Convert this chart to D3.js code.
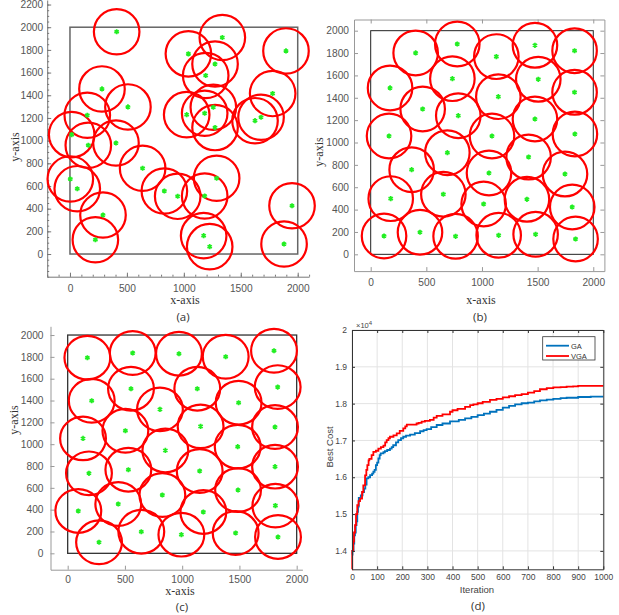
<!DOCTYPE html>
<html lang="en">
<head>
<meta charset="UTF-8" />
<title>Sensor layouts + GA vs VGA</title>
<script src="https://d3js.org/d3.v7.min.js"></script>
<style>
  body { margin: 0; background: #fff; }
  svg { display: block; }
  .axis-title { font-family: "Liberation Serif", "Times New Roman", serif; fill: #333; font-size: 12px; }
  .sub-label { font-family: "Open Sans", "Liberation Sans", sans-serif; fill: #333; font-size: 11.5px; }
</style>
</head>
<body>
<svg width="619" height="615"></svg>
<script>
const radius = 200;

const layoutA = [
  [410, 1960], [1040, 1765], [1338, 1909], [1274, 1676], [1192, 1574], [1897, 1791],
  [281, 1456], [509, 1297], [152, 1224], [1025, 1229], [1183, 1241], [1259, 1294],
  [1274, 1115], [1780, 1415], [1625, 1176], [1678, 1206], [15, 1053], [161, 959],
  [404, 979], [638, 756], [3, 662], [64, 576], [829, 556], [946, 509],
  [1183, 512], [1288, 668], [290, 344], [223, 126], [1174, 162], [1227, 65],
  [1950, 426], [1880, 88]
];

const layoutB = [
  [404, 1801], [778, 1881], [1129, 1768], [1476, 1869], [1832, 1821],
  [174, 1488], [734, 1571], [1506, 1565], [1832, 1449],
  [467, 1300], [787, 1240], [1147, 1410], [1476, 1210],
  [165, 1058], [1090, 1058], [1835, 1076], [689, 909],
  [368, 757], [1063, 727], [1419, 870], [1746, 718],
  [180, 498], [653, 537], [1015, 450], [1404, 492], [1811, 423],
  [120, 164], [443, 197], [763, 161], [1150, 170], [1482, 179], [1841, 137]
];

const layoutC = [
  [172, 1792], [568, 1835], [972, 1829], [1380, 1801], [1802, 1856],
  [210, 1398], [553, 1508], [1132, 1508], [1493, 1380], [1834, 1523],
  [806, 1319], [504, 1123], [1161, 1163], [1811, 1157],
  [134, 1053], [853, 943], [1485, 977],
  [186, 733], [530, 766], [1153, 754], [1811, 794],
  [827, 534], [1488, 580], [442, 452], [93, 388], [1185, 379], [1814, 437],
  [643, 198], [993, 171], [1467, 186], [1837, 150], [274, 101]
];

// convergence curves (best cost in units of 1e4)
const iterGA = [0, 2, 6, 9, 12, 15, 18, 21, 24, 27, 35, 42, 48, 53, 58, 65, 72, 80, 85, 90,
  95, 100, 105, 110, 114, 125, 131, 140, 151, 158, 164, 175, 184, 195, 204, 215, 231, 250, 271, 285,
  297, 315, 337, 360, 390, 400, 425, 450, 475, 500, 525, 549, 575, 600, 625, 649, 675, 700, 725, 748,
  775, 801, 830, 854, 900, 950, 1000];
const costGA = [1.39, 1.40, 1.42, 1.442, 1.45, 1.47, 1.48, 1.506, 1.52, 1.544, 1.551, 1.56, 1.569, 1.58, 1.597, 1.60, 1.606, 1.61, 1.615, 1.62,
  1.633, 1.64, 1.651, 1.66, 1.665, 1.668, 1.671, 1.674, 1.678, 1.682, 1.687, 1.695, 1.701, 1.706, 1.71, 1.713, 1.716, 1.72, 1.725, 1.728,
  1.731, 1.736, 1.742, 1.746, 1.752, 1.752, 1.756, 1.760, 1.764, 1.769, 1.773, 1.778, 1.783, 1.789, 1.794, 1.798, 1.801, 1.803, 1.806, 1.809,
  1.811, 1.813, 1.815, 1.816, 1.818, 1.819, 1.819];

const iterVGA = [0, 1, 5, 8, 12, 16, 21, 26, 32, 40, 45, 52, 57, 61, 66, 69, 78, 85, 95, 105,
  115, 125, 132, 138, 145, 151, 165, 178, 190, 204, 212, 218, 257, 265, 277, 290, 310, 325, 337, 360,
  390, 400, 420, 450, 470, 483, 500, 520, 549, 575, 600, 625, 649, 675, 700, 725, 748, 775, 801, 830,
  854, 880, 900, 950, 1000];
const costVGA = [1.35, 1.40, 1.425, 1.45, 1.47, 1.50, 1.524, 1.535, 1.542, 1.56, 1.578, 1.605, 1.62, 1.633, 1.646, 1.65, 1.66, 1.669, 1.672, 1.678,
  1.682, 1.686, 1.695, 1.701, 1.706, 1.71, 1.714, 1.719, 1.726, 1.733, 1.738, 1.743, 1.746, 1.748, 1.751, 1.753, 1.756, 1.762, 1.767, 1.771,
  1.778, 1.782, 1.786, 1.791, 1.796, 1.798, 1.801, 1.805, 1.810, 1.813, 1.817, 1.820, 1.823, 1.826, 1.830, 1.834, 1.839, 1.842, 1.844, 1.845,
  1.846, 1.847, 1.848, 1.848, 1.848];

const areaTicksX = [0, 500, 1000, 1500, 2000];
const areaTicksY = [0, 200, 400, 600, 800, 1000, 1200, 1400, 1600, 1800, 2000];
const iterTicks = [0, 100, 200, 300, 400, 500, 600, 700, 800, 900, 1000];
const costTicks = [1.4, 1.5, 1.6, 1.7, 1.8, 1.9, 2.0];

const svg = d3.select("svg");
const sans = '"Liberation Sans", Arial, sans-serif';
const plain = d3.format("d");

function styleAxis(g, color, size) {
  g.attr("font-family", sans).attr("font-size", size).attr("color", color);
  g.selectAll("text").attr("fill", "#555");
}

function drawLayout(opt) {
  const g = svg.append("g");
  const x = d3.scaleLinear().domain(opt.xd).range(opt.xr);
  const y = d3.scaleLinear().domain(opt.yd).range(opt.yr);

  // minor ticks
  if (opt.minorX) {
    g.append("g").attr("transform", `translate(0,${opt.yr[0]})`)
      .call(d3.axisBottom(x).tickValues(opt.minorX).tickFormat("").tickSizeInner(-2).tickSizeOuter(0))
      .call(a => a.select(".domain").remove())
      .attr("color", opt.axisColor);
    g.append("g").attr("transform", `translate(${opt.xr[0]},0)`)
      .call(d3.axisLeft(y).tickValues(opt.minorY).tickFormat("").tickSizeInner(-2).tickSizeOuter(0))
      .call(a => a.select(".domain").remove())
      .attr("color", opt.axisColor);
  }

  g.append("g").attr("transform", `translate(0,${opt.yr[0]})`)
    .call(d3.axisBottom(x).tickValues(areaTicksX).tickFormat(plain)
      .tickSizeInner(-4).tickSizeOuter(0).tickPadding(opt.padX))
    .call(a => styleAxis(a, opt.axisColor, 10.2));
  g.append("g").attr("transform", `translate(${opt.xr[0]},0)`)
    .call(d3.axisLeft(y).tickValues(opt.yTicks).tickFormat(plain)
      .tickSizeInner(-4).tickSizeOuter(0).tickPadding(opt.padY))
    .call(a => styleAxis(a, opt.axisColor, 10.2));

  if (opt.box) {
    g.append("g").attr("transform", `translate(0,${opt.yr[1]})`)
      .call(d3.axisTop(x).tickValues(areaTicksX).tickFormat("").tickSizeInner(-4).tickSizeOuter(0))
      .attr("color", opt.axisColor);
    g.append("g").attr("transform", `translate(${opt.xr[1]},0)`)
      .call(d3.axisRight(y).tickValues(opt.yTicks).tickFormat("").tickSizeInner(-4).tickSizeOuter(0))
      .attr("color", opt.axisColor);
  }

  // 2000 x 2000 field boundary
  g.append("rect")
    .attr("x", x(0)).attr("y", y(2000))
    .attr("width", x(2000) - x(0)).attr("height", y(0) - y(2000))
    .attr("fill", "none").attr("stroke", opt.frameColor).attr("stroke-width", opt.frameWidth);

  const rx = Math.abs(x(radius) - x(0));
  const ry = Math.abs(y(0) - y(radius));
  g.selectAll("ellipse").data(opt.data).enter().append("ellipse")
    .attr("cx", d => x(d[0])).attr("cy", d => y(d[1]))
    .attr("rx", rx).attr("ry", ry)
    .attr("fill", "none").attr("stroke", "#ff0000").attr("stroke-width", 2.2);

  const star = d3.symbol(d3.symbolAsterisk, 18);
  g.selectAll("path.pt").data(opt.data).enter().append("path")
    .attr("class", "pt")
    .attr("transform", d => `translate(${x(d[0])},${y(d[1])})`)
    .attr("d", star)
    .attr("fill", "none").attr("stroke", "#22ee22").attr("stroke-width", 1.7);

  g.append("text").attr("class", "axis-title")
    .attr("x", opt.xt[0]).attr("y", opt.xt[1]).attr("text-anchor", "middle").text("x-axis");
  g.append("text").attr("class", "axis-title")
    .attr("transform", `translate(${opt.yt[0]},${opt.yt[1]}) rotate(-90)`)
    .attr("text-anchor", "middle").text("y-axis");
  g.append("text").attr("class", "sub-label")
    .attr("x", opt.lab[0]).attr("y", opt.lab[1]).attr("text-anchor", "middle").text(opt.label);
}

drawLayout({
  data: layoutA, label: "(a)",
  xd: [-200, 2100], xr: [47.2, 309.1], yd: [-200, 2240], yr: [276.7, 0],
  yTicks: areaTicksY.concat([2200]),
  minorX: d3.range(-200, 2101, 100), minorY: d3.range(-200, 2201, 50),
  axisColor: "#777", frameColor: "#666", frameWidth: 1.5,
  padX: 8, padY: 4, box: false,
  xt: [185, 304], yt: [19, 147], lab: [183, 321]
});

drawLayout({
  data: layoutB, label: "(b)",
  xd: [-150, 2100], xr: [354, 604.4], yd: [-150, 2100], yr: [271.1, 19.5],
  yTicks: areaTicksY,
  axisColor: "#999", frameColor: "#222", frameWidth: 1,
  padX: 8, padY: 5, box: true,
  xt: [481, 304], yt: [323, 152], lab: [480, 321]
});

drawLayout({
  data: layoutC, label: "(c)",
  xd: [-150, 2050], xr: [50.5, 302.4], yd: [-150, 2080], yr: [569.7, 326.3],
  yTicks: areaTicksY,
  axisColor: "#999", frameColor: "#333", frameWidth: 1.3,
  padX: 6, padY: 7, box: false,
  xt: [180, 595], yt: [18, 420], lab: [182, 611]
});

// (d) convergence panel
{
  const g = svg.append("g");
  const x = d3.scaleLinear().domain([0, 1000]).range([352, 603.3]);
  const y = d3.scaleLinear().domain([1.35, 2.0]).range([569.3, 330]);

  g.append("g").selectAll("line.gx").data(iterTicks).enter().append("line")
    .attr("x1", d => x(d)).attr("x2", d => x(d)).attr("y1", y(1.35)).attr("y2", y(2.0))
    .attr("stroke", "#e3e3e3").attr("stroke-width", 1);
  g.append("g").selectAll("line.gy").data(costTicks).enter().append("line")
    .attr("y1", d => y(d)).attr("y2", d => y(d)).attr("x1", x(0)).attr("x2", x(1000))
    .attr("stroke", "#e3e3e3").attr("stroke-width", 1);

  const line = (xs, ys) => d3.line()
    .x((d, i) => x(xs[i])).y(d => y(d))
    .curve(d3.curveStepAfter)(ys);

  g.append("path").attr("d", line(iterGA, costGA))
    .attr("fill", "none").attr("stroke", "#0072BD").attr("stroke-width", 1.8);
  g.append("path").attr("d", line(iterVGA, costVGA))
    .attr("fill", "none").attr("stroke", "#ff0000").attr("stroke-width", 1.8);

  const ax = a => a.attr("font-family", sans).attr("font-size", 8.5).attr("color", "#333")
    .call(s => s.selectAll("text").attr("fill", "#444"));
  g.append("g").attr("transform", `translate(0,${y(1.35)})`)
    .call(d3.axisBottom(x).tickValues(iterTicks).tickFormat(plain)
      .tickSizeInner(-3).tickSizeOuter(0).tickPadding(5))
    .call(ax);
  g.append("g").attr("transform", `translate(${x(0)},0)`)
    .call(d3.axisLeft(y).tickValues(costTicks).tickFormat(d => d === 2 ? "2" : d3.format(".1f")(d))
      .tickSizeInner(-3).tickSizeOuter(0).tickPadding(5))
    .call(ax);
  g.append("g").attr("transform", `translate(0,${y(2.0)})`)
    .call(d3.axisTop(x).tickValues(iterTicks).tickFormat("").tickSizeInner(-3).tickSizeOuter(0))
    .call(ax);
  g.append("g").attr("transform", `translate(${x(1000)},0)`)
    .call(d3.axisRight(y).tickValues(costTicks).tickFormat("").tickSizeInner(-3).tickSizeOuter(0))
    .call(ax);

  const ex = g.append("text").attr("x", x(0) + 4).attr("y", y(2.0) - 2)
    .attr("font-family", sans).attr("font-size", 7.5).attr("fill", "#444");
  ex.append("tspan").text("\u00d710");
  ex.append("tspan").attr("dy", -3).attr("font-size", 6).text("4");

  // legend
  const lg = g.append("g");
  lg.append("rect").attr("x", 542.7).attr("y", 336.7).attr("width", 52.3).attr("height", 23.3)
    .attr("fill", "#fff").attr("stroke", "#333").attr("stroke-width", 0.8);
  [["GA", "#0072BD", 345.7], ["VGA", "#ff0000", 356]].forEach(([name, col, ly]) => {
    lg.append("line").attr("x1", 546).attr("x2", 569).attr("y1", ly).attr("y2", ly)
      .attr("stroke", col).attr("stroke-width", 1.8);
    lg.append("text").attr("x", 571).attr("y", ly + 2.8)
      .attr("font-family", sans).attr("font-size", 7.5).attr("fill", "#333").text(name);
  });

  g.append("text").attr("x", 477).attr("y", 593).attr("text-anchor", "middle")
    .attr("font-family", sans).attr("font-size", 9.5).attr("fill", "#444").text("Iteration");
  g.append("text").attr("transform", "translate(333,447) rotate(-90)").attr("text-anchor", "middle")
    .attr("font-family", sans).attr("font-size", 9.5).attr("fill", "#444").text("Best Cost");
  g.append("text").attr("class", "sub-label").attr("x", 478).attr("y", 610)
    .attr("text-anchor", "middle").text("(d)");
}
</script>
</body>
</html>
